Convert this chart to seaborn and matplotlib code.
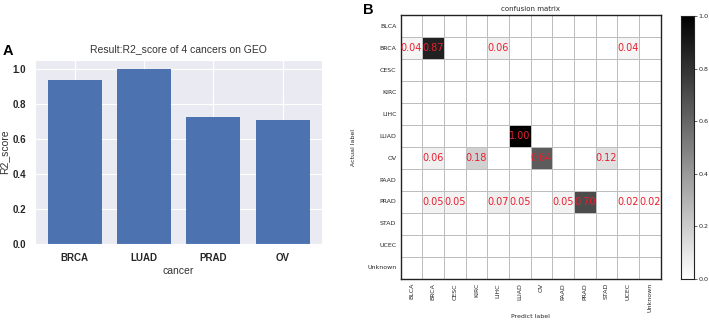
import numpy as np
import pandas as pd
import matplotlib
matplotlib.use("Agg")
import matplotlib.pyplot as plt
import seaborn as sns

# panel A data
cancers = ["BRCA", "LUAD", "PRAD", "OV"]
r2_scores = [0.936, 0.998, 0.723, 0.705]

# panel B data (rows = actual, cols = predicted)
labels = ["BLCA", "BRCA", "CESC", "KIRC", "LIHC", "LUAD",
          "OV", "PAAD", "PRAD", "STAD", "UCEC", "Unknown"]
row_brca = {"BLCA": 0.04, "BRCA": 0.87, "LIHC": 0.06, "UCEC": 0.04}
row_luad = {"LUAD": 1.00}
row_ov = {"BRCA": 0.06, "KIRC": 0.18, "OV": 0.64, "STAD": 0.12}
row_prad = {"BRCA": 0.05, "CESC": 0.05, "LIHC": 0.07, "LUAD": 0.05,
            "PAAD": 0.05, "PRAD": 0.70, "UCEC": 0.02, "Unknown": 0.02}

cm = pd.DataFrame(0.0, index=labels, columns=labels)
for name, row in [("BRCA", row_brca), ("LUAD", row_luad),
                  ("OV", row_ov), ("PRAD", row_prad)]:
    for k, v in row.items():
        cm.loc[name, k] = v
annot = cm.map(lambda v: f"{v:.2f}" if v > 0 else "")

fig = plt.figure(figsize=(7.09, 3.21), dpi=100)
arial = "Liberation Sans"

# ---- A: bar chart
with sns.axes_style("darkgrid"):
    ax1 = fig.add_axes([0.0494, 0.240, 0.405, 0.573])
sns.barplot(x=cancers, y=r2_scores, color="#4C72B0", saturation=1,
            width=0.78, ax=ax1)
ax1.xaxis.grid(True)
ax1.set_xlim(-0.57, 3.57)
ax1.set_ylim(0, 1.05)
ax1.set_yticks([0, 0.2, 0.4, 0.6, 0.8, 1.0])
ax1.set_title("Result:R2_score of 4 cancers on GEO", fontsize=7.5,
              family=arial, color="#333333", pad=6)
ax1.set_xlabel("cancer", fontsize=7.5, family=arial, labelpad=2, color="#333333")
ax1.set_ylabel("R2_score", fontsize=7.5, family=arial, labelpad=2, color="#333333")
for t in ax1.get_xticklabels() + ax1.get_yticklabels():
    t.set_fontsize(7)
    t.set_fontweight("bold")
    t.set_family(arial)
ax1.tick_params(pad=3)
fig.text(0.004, 0.83, "A", fontsize=10.5, fontweight="bold", family=arial)

# ---- B: confusion matrix
with sns.axes_style("white"):
    ax2 = fig.add_axes([0.565, 0.131, 0.367, 0.822])
    cax = fig.add_axes([0.9605, 0.131, 0.0183, 0.819])
sns.heatmap(cm, annot=annot, fmt="", cmap="gray_r", vmin=0, vmax=1,
            linewidths=0.7, linecolor="#bdbdbd", ax=ax2, cbar_ax=cax,
            annot_kws={"color": "#e8202f", "fontsize": 7})
for s in ax2.spines.values():
    s.set_visible(True)
    s.set_color("#222222")
    s.set_linewidth(1)
ax2.tick_params(labelsize=4.5, length=0, pad=3)
ax2.set_xticklabels(labels, rotation=90)
ax2.set_yticklabels(labels, rotation=0)
ax2.set_title("confusion matrix", fontsize=5, pad=3)
ax2.set_xlabel("Predict label", fontsize=4.5, labelpad=1)
ax2.set_ylabel("Actual label", fontsize=4.5, labelpad=8)
cax.tick_params(labelsize=4.6, length=2, width=0.5, right=True, pad=1)
for s in cax.spines.values():
    s.set_visible(True)
    s.set_color("#222222")
fig.text(0.512, 0.955, "B", fontsize=10.5, fontweight="bold", family=arial)

fig.savefig("out.png", dpi=100)
